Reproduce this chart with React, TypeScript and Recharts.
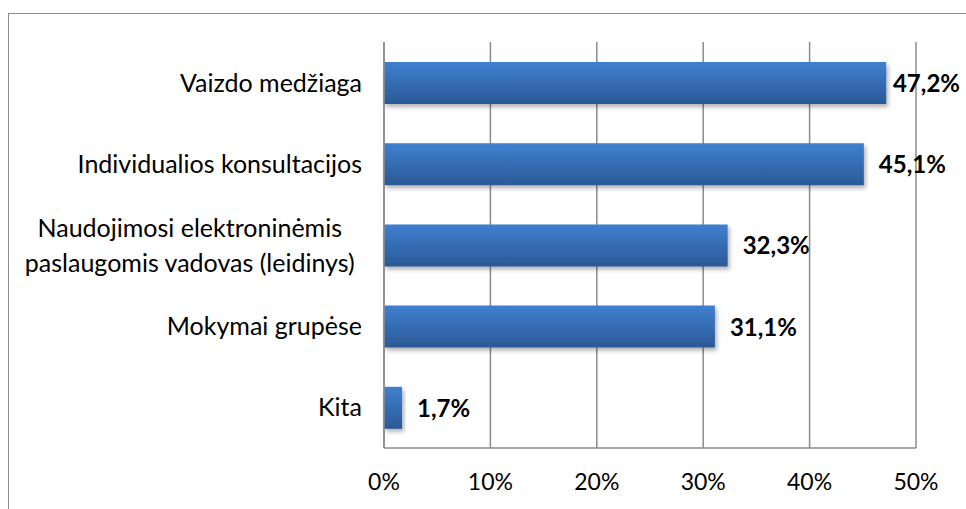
import React from 'react';
import { BarChart, Bar, XAxis, YAxis, CartesianGrid, LabelList } from 'recharts';

const categories = [
  'Vaizdo medžiaga',
  'Individualios konsultacijos',
  'Naudojimosi elektroninėmis paslaugomis vadovas (leidinys)',
  'Mokymai grupėse',
  'Kita',
];
const shares = [47.2, 45.1, 32.3, 31.1, 1.7];
const xTicks = [0, 10, 20, 30, 40, 50];

const data = categories.map((name, i) => ({ name, value: shares[i] }));

const FONT = 'Lato, "Open Sans", sans-serif';
const GRID = '#8c8c8c';
const CHART_W = 966;

// simple word wrap for long category names
const wrap = (text: string, max = 31): string[] => {
  const lines: string[] = [];
  let cur = '';
  text.split(' ').forEach((w) => {
    if (cur && (cur + ' ' + w).length > max) {
      lines.push(cur);
      cur = w;
    } else {
      cur = cur ? cur + ' ' + w : w;
    }
  });
  if (cur) lines.push(cur);
  return lines;
};

let ctx: CanvasRenderingContext2D | null = null;
const measure = (text: string, font: string): number => {
  if (!ctx) ctx = document.createElement('canvas').getContext('2d');
  if (!ctx) return text.length * 13;
  ctx.font = font;
  return ctx.measureText(text).width;
};

const CategoryTick = (props: any) => {
  const { x, y, payload } = props;
  const lines = wrap(String(payload.value));
  if (lines.length === 1) {
    return (
      <text x={x - 22} y={y + 9} textAnchor="end" fontSize={25} fontFamily={FONT} fill="#000">
        {lines[0]}
      </text>
    );
  }
  // wrapped labels are centred as a block, like Excel
  const lineH = 35;
  const first = 9 - ((lines.length - 1) * lineH) / 2;
  const maxW = Math.max(...lines.map((l) => measure(l, `25px ${FONT}`)));
  const cx = x - 29 - maxW / 2;
  return (
    <text x={cx} y={y} textAnchor="middle" fontSize={25} fontFamily={FONT} fill="#000">
      {lines.map((l, i) => (
        <tspan key={i} x={cx} y={y + first + i * lineH}>
          {l}
        </tspan>
      ))}
    </text>
  );
};

const PercentTick = (props: any) => {
  const { x, y, payload } = props;
  return (
    <text x={x} y={y + 42 - (y - 448)} textAnchor="middle" fontSize={23} fontFamily={FONT} fill="#000">
      {`${payload.value}%`}
    </text>
  );
};

const ValueLabel = (props: any) => {
  const { x, y, width, height, value } = props;
  const text = `${Number(value).toFixed(1).replace('.', ',')}%`;
  const w = measure(text, `bold 24px ${FONT}`);
  // keep label inside the chart, like Excel does
  const lx = Math.min(x + width + 15, CHART_W - 6 - w);
  return (
    <text x={lx} y={y + height / 2 + 9} fontSize={24} fontWeight="bold" fontFamily={FONT} fill="#000">
      {text}
    </text>
  );
};

export default function App() {
  return (
    <div style={{ position: 'fixed', left: 0, top: 0, width: 966, height: 509, overflow: 'hidden', background: '#fff' }}>
      <div
        style={{
          position: 'absolute',
          left: 8,
          top: 13,
          width: 1000,
          height: 600,
          border: `1px solid ${GRID}`,
          boxSizing: 'border-box',
        }}
      />
      <div style={{ position: 'absolute', left: 0, top: 0 }}>
        <BarChart
          width={CHART_W}
          height={509}
          data={data}
          layout="vertical"
          margin={{ top: 42, right: 50, bottom: 0, left: 0 }}
        >
          <defs>
            <linearGradient id="barFill" x1="0" y1="0" x2="0" y2="1">
              <stop offset="0%" stopColor="#3f80d0" />
              <stop offset="100%" stopColor="#2b5996" />
            </linearGradient>
            <filter id="barShadow" x="-10%" y="-20%" width="130%" height="160%">
              <feDropShadow dx="2" dy="3" stdDeviation="2" floodColor="#000" floodOpacity="0.3" />
            </filter>
          </defs>
          <CartesianGrid horizontal={false} stroke={GRID} strokeWidth={1.5} />
          <XAxis
            type="number"
            domain={[0, 50]}
            ticks={xTicks}
            height={61}
            axisLine={{ stroke: GRID, strokeWidth: 1.5 }}
            tickLine={false}
            tick={<PercentTick />}
            interval={0}
          />
          <YAxis
            type="category"
            dataKey="name"
            width={384}
            axisLine={{ stroke: GRID, strokeWidth: 1.5 }}
            tickLine={false}
            tickSize={0}
            tickMargin={0}
            tick={<CategoryTick />}
            interval={0}
          />
          <Bar
            dataKey="value"
            fill="url(#barFill)"
            barSize={42}
            filter="url(#barShadow)"
            isAnimationActive={false}
          >
            <LabelList dataKey="value" content={<ValueLabel />} />
          </Bar>
        </BarChart>
      </div>
    </div>
  );
}
